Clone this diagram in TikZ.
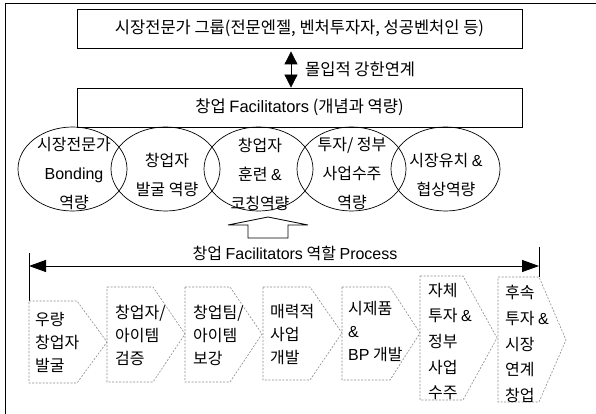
\documentclass[tikz,border=0pt]{standalone}
\usepackage{fontspec}
\setmainfont{Noto Sans CJK KR}
\newfontfamily\latf{Liberation Sans}
\usetikzlibrary{arrows.meta,shapes.geometric}
\begin{document}
\begin{tikzpicture}[x=1pt,y=-1pt,
  box/.style={draw, line width=0.8pt, inner sep=0pt, font=\fontsize{16.5}{20}\selectfont},
  ell/.style={draw, ellipse, line width=0.7pt, inner sep=0pt, minimum width=109pt, minimum height=84pt},
  etxt/.style={font=\fontsize{16}{29}\selectfont, align=center, inner sep=0pt},
  ptxt/.style={font=\fontsize{16}{23}\selectfont, align=left, anchor=west, inner sep=0pt},
  ptxtb/.style={font=\fontsize{16}{25.6}\selectfont, align=left, anchor=west, inner sep=0pt},
  dbox/.style={draw=black!45, line width=0.6pt, dash pattern=on 2pt off 1.5pt},
]
\useasboundingbox (0,0) rectangle (596,414);
\draw[line width=1pt] (5,414) -- (5,4) -- (596,4);

% top boxes
\node[box, minimum width=445pt, minimum height=39pt] (top) at (299.5,28.5) {시장전문가 그룹(전문엔젤, 벤처투자자, 성공벤처인 등)};
\node[box, minimum width=445pt, minimum height=39pt] (fac) at (299.5,107.5) {창업 {\latf Facilitators} (개념과 역량)};

% double arrow
\coordinate (ax) at (291,0);
\draw[line width=0.8pt, {Triangle[length=13pt,width=13pt]}-{Triangle[length=13pt,width=13pt]}, shorten <=3pt]
  (top.south -| ax) -- (fac.north -| ax);
\node[anchor=west, inner sep=0pt, font=\fontsize{16.5}{20}\selectfont] (link) at (305,69) {몰입적 강한연계};

% ellipses
\node[ell] (e1) at (72.5,169) {};
\node[ell] (e2) at (165.5,169) {};
\node[ell] (e3) at (258.5,169) {};
\node[ell] (e4) at (351.5,169) {};
\node[ell] (e5) at (445.5,169) {};
\node[etxt] (t1) at (74,174) {시장전문가\\{\latf Bonding}\\역량};
\node[etxt] (t2) at (167,175) {창업자\\발굴 역량};
\node[etxt] (t3) at (260,174) {창업자\\훈련 {\latf\&}\\코칭역량};
\node[etxt] (t4) at (352,174) {투자/ 정부\\사업수주\\역량};
\node[etxt] (t5) at (446,175) {시장유치 {\latf\&}\\협상역량};

% hollow up arrow
\draw[line width=0.8pt] (248,238) -- (248,225) -- (228,225) -- (268,217) -- (308,225) -- (288,225) -- (288,238) -- cycle;

% process label and arrow
\node[inner sep=0pt, font=\fontsize{16}{20}\selectfont] (plabel) at (295,253) {창업 {\latf Facilitators} 역할 {\latf Process}};
\coordinate (L) at (29,266);
\coordinate (R) at (539,266);
\draw[line width=1pt, {Triangle[length=17pt,width=12pt]}-{Triangle[length=17pt,width=12pt]}] (L) -- (R);
\draw[line width=1pt] (29,253) -- (29,301);
\draw[line width=1pt] (539,247) -- (539,277);

% chevrons
\draw[dbox] (29,301) -- (77,301) -- (107,342) -- (77,383) -- (29,383) -- cycle;
\draw[dbox] (107,287) -- (153,287) -- (185,334) -- (153,382) -- (107,382) -- cycle;
\draw[dbox] (185,287) -- (230,287) -- (262,334) -- (230,382) -- (185,382) -- cycle;
\draw[dbox] (263,287) -- (310,287) -- (342,333) -- (310,380) -- (263,380) -- cycle;
\draw[dbox] (342,287) -- (390,287) -- (420,333) -- (390,380) -- (342,380) -- cycle;
\draw[dbox] (420,276) -- (463,276) -- (497,338) -- (463,400) -- (420,400) -- cycle;
\draw[dbox] (498,277) -- (539,277) -- (566,340) -- (539,402) -- (498,402) -- cycle;

\node[ptxt] (p1) at (35,342.5) {우량\\창업자\\발굴};
\node[ptxt] (p2) at (115,335) {창업자/\\아이템\\검증};
\node[ptxt] (p3) at (193,335) {창업팀/\\아이템\\보강};
\node[ptxt] (p4) at (270,335) {매력적\\사업\\개발};
\node[ptxt] (p5) at (348,331.5) {시제품\\{\latf\&}\\{\latf BP} 개발};
\node[ptxtb] (p6) at (428,341.5) {자체\\투자 {\latf\&}\\정부\\사업\\수주};
\node[ptxtb] (p7) at (505,344) {후속\\투자 {\latf\&}\\시장\\연계\\창업};
\end{tikzpicture}
\end{document}
